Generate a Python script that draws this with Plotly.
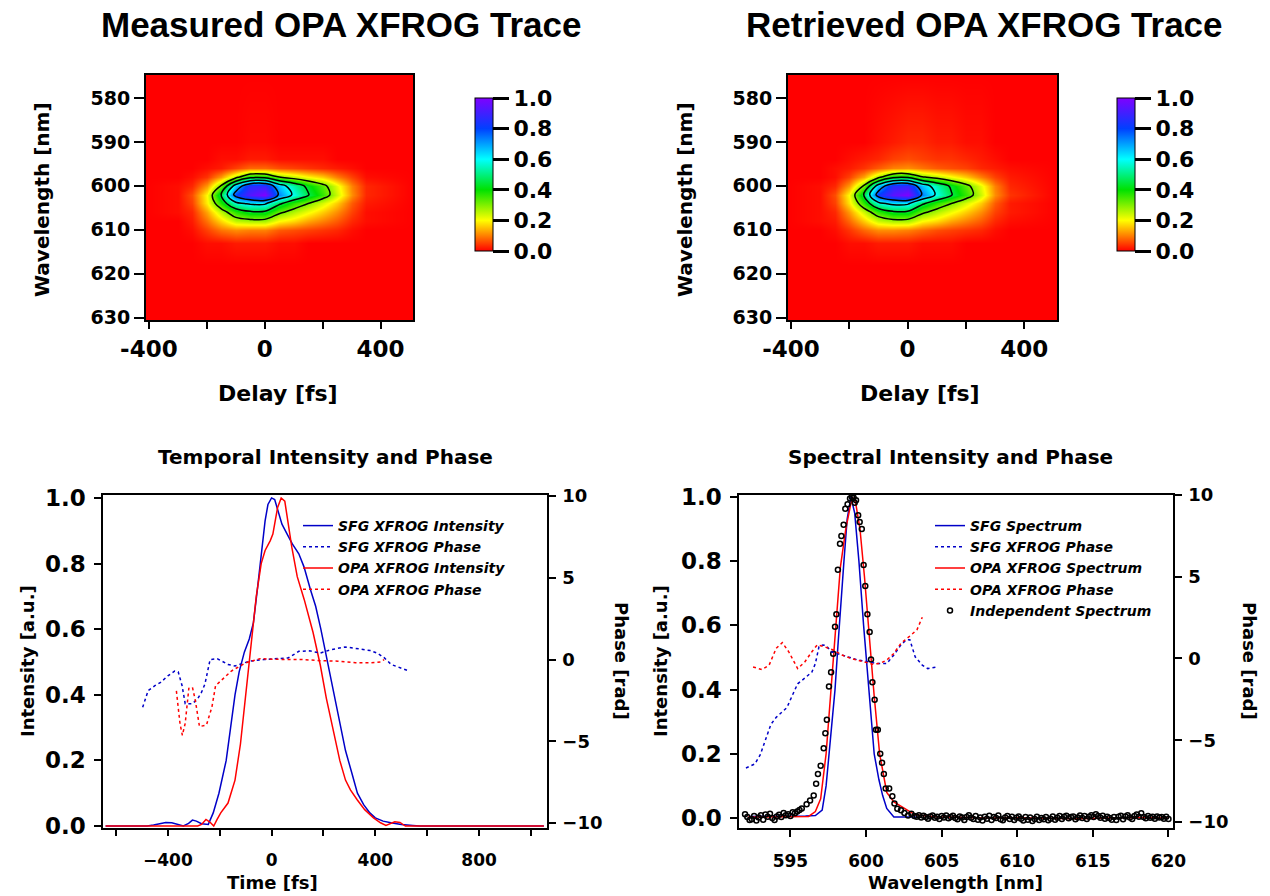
import numpy as np
import plotly.graph_objects as go

W, H = 1270, 896

# ---------------- XFROG traces (coarse grids) ----------------
delay_fs = [-410, -300, -250, -200, -150, -100, -50, 0, 50, 100, 150, 200, 250, 300, 350, 510]
trace_wavelength_nm = [575, 590, 594, 596, 598, 600, 602, 604, 606, 608, 610, 613, 618, 630]

measured_trace = [
    [0, 0, 0, 0, 0, 0, 0, 0, 0, 0, 0, 0, 0, 0, 0, 0],
    [0, 0, 0, 0, 0, 0, 0.005, 0.005, 0, 0, 0, 0, 0, 0, 0, 0],
    [0, 0, 0, 0, 0.01, 0.01, 0.02, 0.02, 0.01, 0.01, 0.01, 0.01, 0, 0, 0, 0],
    [0, 0, 0, 0.01, 0.02, 0.05, 0.08, 0.08, 0.06, 0.05, 0.04, 0.03, 0.02, 0.01, 0, 0],
    [0, 0, 0.01, 0.04, 0.12, 0.26, 0.41, 0.41, 0.30, 0.25, 0.20, 0.16, 0.10, 0.05, 0.01, 0],
    [0, 0.01, 0.03, 0.12, 0.31, 0.66, 0.86, 0.88, 0.66, 0.53, 0.42, 0.33, 0.22, 0.10, 0.03, 0],
    [0, 0.01, 0.06, 0.20, 0.46, 0.80, 0.93, 1.00, 0.73, 0.58, 0.46, 0.36, 0.24, 0.11, 0.03, 0],
    [0, 0.01, 0.05, 0.19, 0.38, 0.57, 0.62, 0.62, 0.47, 0.37, 0.30, 0.23, 0.16, 0.07, 0.02, 0],
    [0, 0.01, 0.03, 0.13, 0.25, 0.37, 0.43, 0.43, 0.32, 0.26, 0.21, 0.16, 0.11, 0.05, 0.01, 0],
    [0, 0, 0.02, 0.09, 0.17, 0.25, 0.27, 0.27, 0.20, 0.17, 0.13, 0.10, 0.07, 0.03, 0.01, 0],
    [0, 0, 0.01, 0.05, 0.09, 0.11, 0.10, 0.10, 0.07, 0.06, 0.05, 0.04, 0.03, 0.01, 0, 0],
    [0, 0, 0, 0.01, 0.01, 0.02, 0.02, 0.02, 0.01, 0.01, 0, 0, 0, 0, 0, 0],
    [0, 0, 0, 0, 0, 0, 0, 0, 0, 0, 0, 0, 0, 0, 0, 0],
    [0, 0, 0, 0, 0, 0, 0, 0, 0, 0, 0, 0, 0, 0, 0, 0],
]

retrieved_trace = [
    [0, 0, 0, 0, 0, 0, 0, 0, 0, 0, 0, 0, 0, 0, 0, 0],
    [0, 0, 0, 0, 0, 0.01, 0.02, 0.03, 0.03, 0.02, 0.02, 0.01, 0.01, 0, 0, 0],
    [0, 0, 0, 0.01, 0.02, 0.03, 0.05, 0.06, 0.05, 0.04, 0.04, 0.03, 0.02, 0.01, 0, 0],
    [0, 0, 0.01, 0.02, 0.04, 0.07, 0.10, 0.11, 0.09, 0.07, 0.06, 0.05, 0.03, 0.02, 0.01, 0],
    [0, 0, 0.01, 0.05, 0.13, 0.27, 0.41, 0.42, 0.31, 0.26, 0.21, 0.16, 0.10, 0.05, 0.02, 0],
    [0, 0.01, 0.03, 0.12, 0.31, 0.66, 0.86, 0.88, 0.67, 0.54, 0.43, 0.33, 0.22, 0.10, 0.03, 0],
    [0, 0.01, 0.06, 0.20, 0.46, 0.81, 0.94, 1.00, 0.74, 0.58, 0.46, 0.36, 0.24, 0.11, 0.04, 0],
    [0, 0.01, 0.05, 0.18, 0.37, 0.57, 0.63, 0.62, 0.47, 0.37, 0.30, 0.23, 0.16, 0.07, 0.02, 0],
    [0, 0.01, 0.03, 0.12, 0.24, 0.36, 0.43, 0.43, 0.32, 0.26, 0.21, 0.16, 0.11, 0.05, 0.02, 0],
    [0, 0.01, 0.02, 0.08, 0.16, 0.24, 0.27, 0.27, 0.20, 0.17, 0.13, 0.10, 0.07, 0.03, 0.01, 0],
    [0, 0, 0.01, 0.04, 0.08, 0.11, 0.11, 0.10, 0.08, 0.06, 0.05, 0.04, 0.03, 0.01, 0, 0],
    [0, 0, 0, 0.01, 0.01, 0.02, 0.02, 0.02, 0.01, 0.01, 0.01, 0, 0, 0, 0, 0],
    [0, 0, 0, 0, 0, 0, 0, 0, 0, 0, 0, 0, 0, 0, 0, 0],
    [0, 0, 0, 0, 0, 0, 0, 0, 0, 0, 0, 0, 0, 0, 0, 0],
]

contour_levels = [0.30, 0.45, 0.60, 0.75]

# ---------------- Temporal intensity and phase ----------------
sfg_int_t = [-640, -480, -455, -430, -408, -385, -360, -340, -320, -305, -290, -270, -244,
             -225, -203, -175, -158, -141, -125, -105, -86, -70, -55, -40, -25, -14, 0, 12,
             25, 40, 60, 80, 105, 125, 150, 170, 190, 210, 235, 260, 285, 310, 331, 355, 379,
             400, 430, 460, 500, 545, 570, 1050]
sfg_int = [0, 0, 0.003, 0.008, 0.011, 0.010, 0.005, 0.0, 0.008, 0.018, 0.015, 0.007, 0.005,
           0.04, 0.10, 0.20, 0.30, 0.40, 0.47, 0.53, 0.57, 0.62, 0.72, 0.82, 0.93, 0.98, 1.0, 0.995,
           0.96, 0.92, 0.89, 0.86, 0.83, 0.79, 0.72, 0.67, 0.60, 0.52, 0.42, 0.32, 0.23, 0.16, 0.10,
           0.065, 0.04, 0.025, 0.015, 0.01, 0.005, 0.002, 0, 0]

sfg_phase_t = [-497, -476, -450, -428, -400, -374, -360, -345, -333, -305, -285, -270, -257,
               -237, -209, -190, -168, -141, -110, -86, -31, 23, 64, 85, 105, 146, 188, 229,
               283, 338, 380, 407, 435, 461, 500, 530]
sfg_phase = [-2.92, -1.9, -1.6, -1.4, -1.0, -0.71, -0.75, -1.6, -2.7, -2.7, -2.4, -2.0, -1.5,
             0.0, 0.05, -0.1, -0.3, -0.4, -0.25, -0.1, 0.0, 0.05, 0.1, 0.3, 0.5, 0.53, 0.4, 0.6,
             0.77, 0.65, 0.55, 0.4, 0.1, -0.3, -0.55, -0.7]

opa_int_t = [-640, -285, -270, -253, -238, -223, -210, -196, -168, -141, -120, -100, -79, -59,
             -40, -25, -5, 5, 23, 37, 51, 65, 78, 99, 126, 160, 188, 211, 235, 263, 285, 304,
             330, 359, 393, 420, 441, 460, 475, 495, 516, 1050]
opa_int = [0, 0, 0.005, 0.02, 0.012, 0.0, 0.02, 0.04, 0.07, 0.14, 0.25, 0.40, 0.55, 0.70,
           0.80, 0.84, 0.87, 0.89, 0.97, 1.0, 0.99, 0.92, 0.85, 0.76, 0.69, 0.59, 0.49, 0.39,
           0.30, 0.20, 0.14, 0.11, 0.08, 0.05, 0.025, 0.01, 0.002, 0.008, 0.013, 0.011, 0.0, 0]

opa_phase_t = [-367, -353, -344, -333, -319, -305, -294, -278, -251, -230, -216, -196, -155,
               -100, -45, 51, 119, 188, 256, 324, 380, 420, 434]
opa_phase = [-1.92, -3.93, -4.63, -3.9, -1.76, -1.7, -2.5, -4.1, -4.0, -2.9, -1.6, -1.3, -0.7,
             -0.2, 0.05, 0.0, 0.0, -0.07, -0.1, -0.2, -0.2, -0.15, 0.0]

# ---------------- Spectral intensity and phase ----------------
sfg_spec_wl = [592.3, 593.0, 594.0, 595.0, 596.0, 596.65, 597.1, 597.36, 597.55, 597.8, 597.95,
               598.14, 598.3, 598.54, 598.75, 599.0, 599.25, 599.53, 599.84, 600.19, 600.54,
               600.85, 601.1, 601.37, 601.84, 602.5, 603.3]
sfg_spec = [0.005, 0.005, 0.006, 0.006, 0.006, 0.008, 0.025, 0.10, 0.20, 0.33, 0.40, 0.535,
            0.65, 0.80, 0.93, 1.0, 0.95, 0.80, 0.60, 0.40, 0.20, 0.12, 0.07, 0.03, 0.003, 0.003,
            0.003]

sfg_sphase_wl = [592.06, 592.65, 593.0, 593.36, 593.71, 594.06, 594.42, 594.77, 595.12, 595.48,
                 595.95, 596.42, 596.65, 596.89, 597.13, 597.36, 597.71, 598.07, 598.78, 599.48,
                 600.19, 600.66, 601.37, 601.84, 602.31, 602.66, 602.9, 603.25, 603.72, 604.08,
                 604.66]
sfg_sphase = [-6.7, -6.45, -5.9, -4.96, -4.03, -3.6, -3.3, -3.0, -2.27, -1.55, -1.2, -0.83,
              -0.31, 0.72, 0.83, 0.79, 0.41, 0.31, 0.1, -0.1, -0.2, -0.31, -0.31, 0.21, 0.83,
              1.14, 1.14, 0.1, -0.41, -0.62, -0.52]

opa_spec_wl = [592.2, 593.5, 595.0, 596.2, 596.65, 597.0, 597.36, 597.7, 598.0, 598.3, 598.66,
               599.0, 599.25, 599.6, 599.9, 600.19, 600.54, 600.9, 601.2, 601.37, 601.84, 602.54,
               603.25, 604.5, 606, 608, 610, 612, 614, 616, 618, 620]
opa_spec = [0.003, 0.004, 0.004, 0.005, 0.02, 0.06, 0.20, 0.40, 0.60, 0.78, 0.90, 0.98, 1.0,
            0.90, 0.75, 0.58, 0.38, 0.20, 0.12, 0.08, 0.05, 0.03, 0.01, 0.004, 0.002, 0.0,
            0.001, 0.0, -0.002, 0.0, 0.002, 0.0]

opa_sphase_wl = [592.53, 593.12, 593.59, 594.06, 594.46, 594.89, 595.48, 595.95, 596.42, 596.77,
                 597.24, 597.83, 598.42, 599.01, 599.72, 600.42, 600.9, 601.37, 601.84, 602.31,
                 603.0, 603.37, 603.72]
opa_sphase = [-0.52, -0.68, -0.41, 0.62, 0.97, 0.41, -0.62, -0.21, 0.41, 0.83, 0.72, 0.52, 0.21,
              0.0, -0.17, -0.35, -0.31, -0.1, 0.31, 0.93, 1.45, 1.76, 2.52]

# independent spectrum: left baseline, peak, right baseline
indep_left_wl = np.linspace(592.0, 595.75, 26)
indep_left = [0.012, 0.003, -0.006, -0.004, 0.006, -0.008, 0.002, 0.009, -0.005, 0.011,
              0.004, 0.013, 0.0, -0.006, 0.005, 0.010, 0.003, 0.016, 0.009, 0.012,
              0.006, 0.018, 0.015, 0.020, 0.025, 0.030]
indep_peak_wl = [596.07, 596.3, 596.54, 596.7, 596.82, 597.0, 597.2, 597.31, 597.41, 597.55,
                 597.69, 597.83, 597.95, 598.04, 598.14, 598.28, 598.37, 598.52, 598.63, 598.78,
                 598.94, 599.06, 599.18, 599.25, 599.34, 599.48, 599.58, 599.72, 599.84, 599.95,
                 600.09, 600.24, 600.33, 600.42, 600.57, 600.66, 600.78, 600.94, 601.06, 601.18,
                 601.3, 601.53, 601.74, 601.88, 602.07, 602.31, 602.54, 602.78, 603.0]
indep_peak = [0.043, 0.055, 0.07, 0.107, 0.137, 0.163, 0.217, 0.264, 0.306, 0.41, 0.454, 0.512,
              0.596, 0.635, 0.773, 0.854, 0.878, 0.913, 0.963, 0.977, 0.995, 1.0, 0.998, 0.982,
              0.99, 0.943, 0.922, 0.9, 0.788, 0.723, 0.635, 0.579, 0.494, 0.423, 0.368, 0.275,
              0.275, 0.2, 0.172, 0.137, 0.092, 0.092, 0.068, 0.045, 0.029, 0.024, 0.016, 0.008,
              0.013]
indep_right_wl = np.linspace(603.2, 620.0, 113)
indep_right = [0.006, 0.004, 0.009, 0.002, 0.007, 0.003, -0.002, 0.005, 0.008, 0.001,
               0.004, -0.003, 0.006, 0.002, 0.008, -0.001, 0.003, 0.007, 0.000, -0.004,
               0.005, 0.002, -0.006, 0.003, 0.009, 0.001, -0.003, 0.006, -0.005, 0.002,
               -0.008, 0.004, -0.002, 0.007, -0.006, 0.003, 0.000, 0.008, -0.004, -0.007,
               0.002, 0.006, -0.003, 0.004, -0.006, 0.001, 0.005, -0.002, -0.008, 0.003,
               -0.005, 0.002, -0.009, -0.003, 0.004, -0.006, 0.000, -0.004, 0.003, -0.007,
               -0.002, 0.005, -0.005, 0.001, 0.006, -0.003, 0.004, 0.007, -0.001, 0.003,
               0.005, -0.004, 0.002, 0.008, 0.000, 0.006, -0.003, 0.004, 0.009, 0.003,
               0.012, 0.006, 0.001, 0.007, -0.002, 0.004, 0.000, -0.005, 0.003, -0.006,
               0.004, 0.007, -0.004, 0.005, 0.009, 0.002, -0.003, 0.006, 0.011, 0.004,
               0.015, 0.003, -0.001, 0.006, 0.001, 0.004, -0.002, 0.005, 0.002, 0.003,
               -0.002, 0.004, -0.003]

indep_wl = list(indep_left_wl) + indep_peak_wl + list(indep_right_wl)
indep_spec = indep_left + indep_peak + indep_right

# ---------------- styling ----------------
BLUE = "rgb(0,0,200)"
RED = "rgb(255,0,0)"
FONT = "DejaVu Sans"
rainbow = [[0.0, "rgb(255,0,0)"], [0.1, "rgb(255,128,0)"], [0.2, "rgb(255,255,0)"],
           [0.4, "rgb(0,225,0)"], [0.6, "rgb(0,255,255)"], [0.8, "rgb(0,64,255)"],
           [1.0, "rgb(128,0,255)"]]


def px_x(p):
    return p / W


def px_y(p):
    return 1 - p / H


def tf(size):
    return dict(family=FONT, size=size, color="black", weight="bold")


fig = go.Figure()

for i, (z, cbx) in enumerate([(measured_trace, 475), (retrieved_trace, 1117)]):
    xa = "x" if i == 0 else "x2"
    ya = "y" if i == 0 else "y2"
    fig.add_trace(go.Heatmap(
        x=delay_fs, y=trace_wavelength_nm, z=z, zmin=0, zmax=1, zsmooth="best",
        colorscale=rainbow, xaxis=xa, yaxis=ya, hoverinfo="skip",
        colorbar=dict(x=px_x(cbx), xanchor="left", y=px_y(174.5), yanchor="middle",
                      len=153, lenmode="pixels", thickness=18, thicknessmode="pixels",
                      outlinewidth=1, outlinecolor="black", xpad=0, ypad=0,
                      ticks="outside", ticklen=16, tickwidth=3, tickcolor="black",
                      tickvals=[0, 0.2, 0.4, 0.6, 0.8, 1.0],
                      ticktext=["0.0", "0.2", "0.4", "0.6", "0.8", "1.0"],
                      tickfont=tf(22))))
    fig.add_trace(go.Contour(
        x=delay_fs, y=trace_wavelength_nm, z=z, showscale=False, xaxis=xa, yaxis=ya,
        contours=dict(start=contour_levels[0], end=contour_levels[-1],
                      size=contour_levels[1] - contour_levels[0], coloring="none"),
        line=dict(color="black", width=1.5), hoverinfo="skip", showlegend=False))

# temporal
fig.add_trace(go.Scatter(x=sfg_int_t, y=sfg_int, mode="lines", name="SFG XFROG Intensity",
                         line=dict(color=BLUE, width=1.5), xaxis="x3", yaxis="y3", legend="legend"))
fig.add_trace(go.Scatter(x=sfg_phase_t, y=sfg_phase, mode="lines", name="SFG XFROG Phase",
                         line=dict(color=BLUE, width=1.5, dash="3px,3px"), xaxis="x3", yaxis="y4",
                         legend="legend"))
fig.add_trace(go.Scatter(x=opa_int_t, y=opa_int, mode="lines", name="OPA XFROG Intensity",
                         line=dict(color=RED, width=1.5), xaxis="x3", yaxis="y3", legend="legend"))
fig.add_trace(go.Scatter(x=opa_phase_t, y=opa_phase, mode="lines", name="OPA XFROG Phase",
                         line=dict(color=RED, width=1.5, dash="3px,3px"), xaxis="x3", yaxis="y4",
                         legend="legend"))

# spectral
fig.add_trace(go.Scatter(x=sfg_spec_wl, y=sfg_spec, mode="lines", name="SFG Spectrum",
                         line=dict(color=BLUE, width=1.5), xaxis="x4", yaxis="y5", legend="legend2"))
fig.add_trace(go.Scatter(x=sfg_sphase_wl, y=sfg_sphase, mode="lines", name="SFG XFROG Phase",
                         line=dict(color=BLUE, width=1.5, dash="3px,3px"), xaxis="x4", yaxis="y6",
                         legend="legend2"))
fig.add_trace(go.Scatter(x=opa_spec_wl, y=opa_spec, mode="lines", name="OPA XFROG Spectrum",
                         line=dict(color=RED, width=1.5), xaxis="x4", yaxis="y5", legend="legend2"))
fig.add_trace(go.Scatter(x=opa_sphase_wl, y=opa_sphase, mode="lines", name="OPA XFROG Phase",
                         line=dict(color=RED, width=1.5, dash="3px,3px"), xaxis="x4", yaxis="y6",
                         legend="legend2"))
fig.add_trace(go.Scatter(x=indep_wl, y=indep_spec, mode="markers", name="Independent Spectrum",
                         marker=dict(symbol="circle-open", size=5, color="black",
                                     line=dict(width=1.5, color="black")),
                         xaxis="x4", yaxis="y5", legend="legend2"))

axis_common = dict(showline=True, linecolor="black", mirror=True, ticks="outside",
                   tickcolor="black", showgrid=False, zeroline=False, automargin=False)

top_dom_y = [px_y(320), px_y(75)]
bot_dom_y = [px_y(828), px_y(495)]

heat_x = dict(axis_common, range=[-410, 512], tickvals=[-400, 0, 400],
              ticktext=["-400", "0", "400"], ticklen=7, tickwidth=2, linewidth=2,
              tickfont=tf(23), minor=dict(dtick=200, ticks="outside", ticklen=7,
                                          tickwidth=2, tickcolor="black"))
heat_y = dict(axis_common, range=[630.5, 574.8], tickvals=[580, 590, 600, 610, 620, 630],
              ticklen=10, tickwidth=2, linewidth=2, tickfont=tf(19))

legend_font = dict(family=FONT, size=14, color="black", weight="bold", style="italic")

fig.update_layout(
    width=W, height=H, margin=dict(l=0, r=0, t=0, b=0, autoexpand=False),
    paper_bgcolor="white", plot_bgcolor="white",
    xaxis=dict(heat_x, domain=[px_x(146), px_x(413)], anchor="y"),
    yaxis=dict(heat_y, domain=top_dom_y, anchor="x"),
    xaxis2=dict(heat_x, domain=[px_x(788), px_x(1057)], anchor="y2"),
    yaxis2=dict(heat_y, domain=top_dom_y, anchor="x2"),
    xaxis3=dict(axis_common, domain=[px_x(103), px_x(547)], anchor="y3", range=[-650, 1062],
                tickvals=[-400, 0, 400, 800], ticklen=6, tickwidth=1.5, linewidth=1.5,
                ticklabelstandoff=10,
                tickfont=tf(17), minor=dict(dtick=200, ticks="outside", ticklen=6,
                                            tickwidth=1.5, tickcolor="black")),
    yaxis3=dict(axis_common, domain=bot_dom_y, anchor="x3", range=[-0.006, 1.009],
                tickvals=[0, 0.2, 0.4, 0.6, 0.8, 1.0],
                ticktext=["0.0", "0.2", "0.4", "0.6", "0.8", "1.0"],
                ticklen=7, tickwidth=1.5, linewidth=1.5, ticklabelstandoff=4, tickfont=tf(23)),
    yaxis4=dict(axis_common, mirror=False, overlaying="y3", side="right", anchor="x3",
                range=[-10.3, 10.06], tickvals=[-10, -5, 0, 5, 10], ticklen=7,
                tickwidth=1.5, linewidth=1.5, ticklabelstandoff=3, tickfont=tf(18)),
    xaxis4=dict(axis_common, domain=[px_x(739), px_x(1173)], anchor="y5",
                range=[591.6, 620.3], tickvals=[595, 600, 605, 610, 615, 620], ticklen=7,
                tickwidth=1.5, linewidth=1.5, ticklabelstandoff=10, tickfont=tf(17)),
    yaxis5=dict(axis_common, domain=bot_dom_y, anchor="x4", range=[-0.031, 1.006],
                tickvals=[0, 0.2, 0.4, 0.6, 0.8, 1.0],
                ticktext=["0.0", "0.2", "0.4", "0.6", "0.8", "1.0"],
                ticklen=7, tickwidth=1.5, linewidth=1.5, ticklabelstandoff=4, tickfont=tf(23)),
    yaxis6=dict(axis_common, mirror=False, overlaying="y5", side="right", anchor="x4",
                range=[-10.37, 10.0], tickvals=[-10, -5, 0, 5, 10], ticklen=7,
                tickwidth=1.5, linewidth=1.5, ticklabelstandoff=3, tickfont=tf(18)),
    legend=dict(x=px_x(298), y=px_y(510), xanchor="left", yanchor="top",
                bgcolor="rgba(0,0,0,0)", tracegroupgap=0, font=legend_font),
    legend2=dict(x=px_x(930), y=px_y(510), xanchor="left", yanchor="top",
                 bgcolor="rgba(0,0,0,0)", tracegroupgap=0, font=legend_font),
    showlegend=True,
)

title_font = dict(family="Liberation Sans", size=35, color="black", weight="bold")
ann = [
    ("Measured OPA XFROG Trace", 341, 25, 0, title_font),
    ("Retrieved OPA XFROG Trace", 985, 25, 0, title_font),
    ("Wavelength [nm]", 42, 200, -90, tf(20)),
    ("Wavelength [nm]", 685, 200, -90, tf(20)),
    ("Delay [fs]", 278, 393, 0, tf(22)),
    ("Delay [fs]", 920, 393, 0, tf(22)),
    ("Temporal Intensity and Phase", 325, 457, 0, tf(20)),
    ("Spectral Intensity and Phase", 950, 457, 0, tf(20)),
    ("Intensity [a.u.]", 27, 661, -90, tf(18)),
    ("Intensity [a.u.]", 660, 661, -90, tf(18)),
    ("Phase [rad]", 622, 661, 90, tf(18)),
    ("Phase [rad]", 1250, 661, 90, tf(18)),
    ("Time [fs]", 272, 882, 0, tf(18)),
    ("Wavelength [nm]", 955, 882, 0, tf(18)),
]
fig.update_layout(annotations=[
    dict(text=t, x=px_x(x), y=px_y(y), xref="paper", yref="paper", xanchor="center",
         yanchor="middle", textangle=a, showarrow=False, font=f)
    for (t, x, y, a, f) in ann
])

fig.write_html("out.html")
